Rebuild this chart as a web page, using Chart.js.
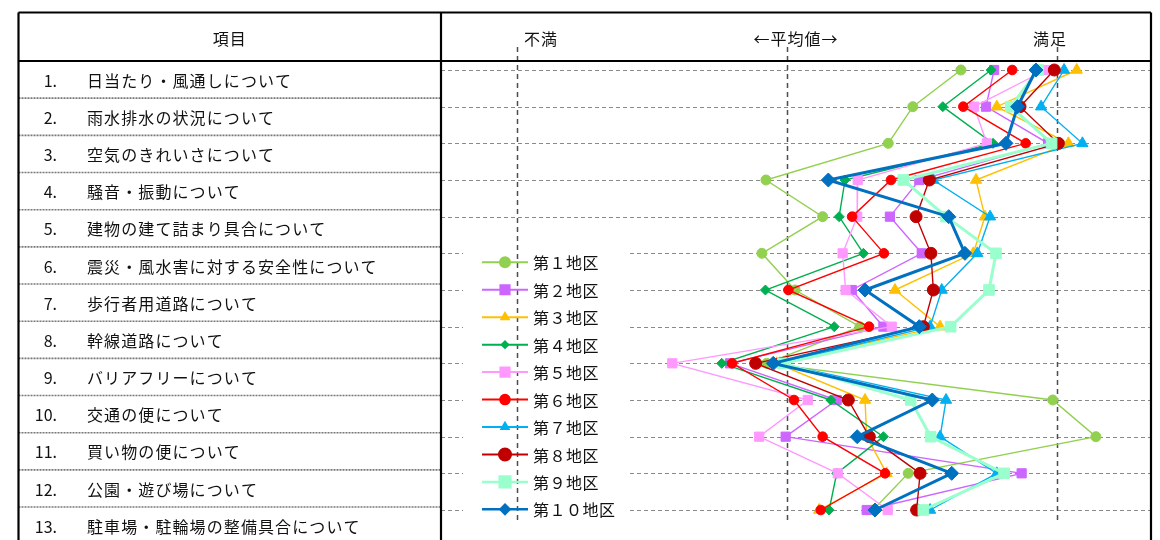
<!DOCTYPE html>
<html lang="ja">
<head>
<meta charset="utf-8">
<script src="https://cdn.jsdelivr.net/npm/chart.js@4.4.1/dist/chart.umd.min.js"></script>
<style>
  html, body { margin: 0; padding: 0; background: #fff; }
  #wrap { width: 1160px; height: 540px; }
</style>
</head>
<body>
<div id="wrap"><canvas id="profileChart"></canvas></div>
<script>
// 項目（表の行）
var items = [
  '日当たり・風通しについて',
  '雨水排水の状況について',
  '空気のきれいさについて',
  '騒音・振動について',
  '建物の建て詰まり具合について',
  '震災・風水害に対する安全性について',
  '歩行者用道路について',
  '幹線道路について',
  'バリアフリーについて',
  '交通の便について',
  '買い物の便について',
  '公園・遊び場について',
  '駐車場・駐輪場の整備具合について'
];
var districts = ['第１地区', '第２地区', '第３地区', '第４地区', '第５地区',
                 '第６地区', '第７地区', '第８地区', '第９地区', '第１０地区'];

// 横軸の目盛り（不満 = -1, 平均値 = 0, 満足 = 1）
var axisTicks = [-1, 0, 1];
var axisLabels = ['不満', '←平均値→', '満足'];

// 地区ごとの評価値（項目1〜13）
var d1  = [0.644, 0.466, 0.375, -0.078, 0.132, -0.093, 0.030, 0.270, -0.075, 0.984, 1.144, 0.449, 0.319];
var d2  = [0.767, 0.737, 0.967, 0.490, 0.381, 0.499, 0.240, 0.357, -0.211, 0.184, -0.005, 0.869, 0.295];
var d3  = [1.073, 0.777, 1.042, 0.700, 0.733, 0.690, 0.400, 0.567, -0.038, 0.289, 0.295, 0.369, 0.119];
var d4  = [0.756, 0.577, 0.763, 0.215, 0.193, 0.283, -0.080, 0.175, -0.242, 0.162, 0.357, 0.184, 0.156];
var d5  = [0.958, 0.693, 0.740, 0.262, 0.260, 0.206, 0.217, 0.388, -0.425, 0.077, -0.103, 0.188, 0.373];
var d6  = [0.834, 0.653, 0.884, 0.385, 0.241, 0.359, 0.005, 0.304, -0.203, 0.026, 0.132, 0.363, 0.125];
var d7  = [1.026, 0.941, 1.094, 0.542, 0.752, 0.705, 0.573, 0.530, -0.026, 0.589, 0.567, 0.777, 0.530];
var d8  = [0.990, 0.863, 1.005, 0.527, 0.478, 0.533, 0.542, 0.505, -0.116, 0.227, 0.305, 0.493, 0.480];
var d9  = [0.930, 0.829, 0.980, 0.431, 0.589, 0.774, 0.748, 0.606, -0.015, 0.458, 0.532, 0.804, 0.505];
var d10 = [0.922, 0.854, 0.811, 0.153, 0.599, 0.659, 0.289, 0.490, -0.051, 0.538, 0.260, 0.610, 0.326];
var values = [d1, d2, d3, d4, d5, d6, d7, d8, d9, d10];

// 見た目
var colors  = ['#92D050', '#CC66FF', '#FFC000', '#00B050', '#FF99FF',
               '#FF0000', '#00B0F0', '#C00000', '#99FFCC', '#0070C0'];
var markers = ['circle', 'rect', 'triangle', 'rectRot', 'rect',
               'circle', 'triangle', 'circle', 'rect', 'rectRot'];
var radii   = [5, 6.5, 6.5, 5, 6.5, 4.8, 6.5, 6, 7.5, 7];
var widths  = [1.4, 1.4, 1.4, 1.4, 1.4, 1.4, 1.4, 1.4, 3, 3];

var FONT = '"Noto Sans CJK JP", "Noto Sans", sans-serif';

var datasets = values.map(function (vals, k) {
  return {
    label: districts[k],
    data: vals.map(function (v, i) { return { x: v, y: i + 1 }; }),
    borderColor: colors[k],
    backgroundColor: colors[k],
    borderWidth: widths[k],
    pointStyle: markers[k],
    pointRadius: radii[k],
    pointBackgroundColor: colors[k],
    pointBorderColor: colors[k],
    pointBorderWidth: 1,
    tension: 0,
    order: 9 - k   // 第10地区が一番上
  };
});

// 背景の点線（行の線・縦の基準線）
var gridPlugin = {
  id: 'grid',
  beforeDatasetsDraw: function (chart) {
    var c = chart.ctx, xs = chart.scales.x, ys = chart.scales.y, a = chart.chartArea;
    c.save();
    c.strokeStyle = '#8a8a8a';
    c.lineWidth = 1.2;
    c.setLineDash([4, 3]);
    items.forEach(function (t, i) {
      var y = Math.round(ys.getPixelForValue(i + 1)) + 0.5;
      c.beginPath(); c.moveTo(a.left, y); c.lineTo(a.right, y); c.stroke();
    });
    // 凡例の下地
    c.fillStyle = '#fff';
    c.fillRect(463, 238, 167, 296);
    c.strokeStyle = '#4d4d4d';
    c.lineWidth = 1.5;
    c.setLineDash([5, 4]);
    axisTicks.forEach(function (v) {
      var x = Math.round(xs.getPixelForValue(v)) + 0.5;
      c.beginPath(); c.moveTo(x, 47); c.lineTo(x, 524); c.stroke();
    });
    c.restore();
  }
};

// 左の表・見出し・凡例
var tablePlugin = {
  id: 'table',
  afterDraw: function (chart) {
    var c = chart.ctx;
    var L = 18.5, R = 1151, T = 12.5, H = 61, D = 441, rowH = 37.17;
    c.save();
    // 行の区切り（灰色の点線）
    c.strokeStyle = '#777';
    c.lineWidth = 1.6;
    c.setLineDash([2, 1]);
    for (var k = 1; k < items.length; k++) {
      var yy = H + rowH * k;
      c.beginPath(); c.moveTo(L, yy); c.lineTo(D, yy); c.stroke();
    }
    c.setLineDash([]);
    c.strokeStyle = '#000';
    c.lineWidth = 2.2;
    c.beginPath();
    c.moveTo(L, T); c.lineTo(R, T);
    c.moveTo(L, H); c.lineTo(R, H);
    c.moveTo(L, T); c.lineTo(L, 540);
    c.moveTo(D, T); c.lineTo(D, 540);
    c.moveTo(R, T); c.lineTo(R, 540);
    c.stroke();

    // 見出し
    c.fillStyle = '#111';
    c.textBaseline = 'middle';
    c.font = '16px ' + FONT;
    c.letterSpacing = '1px';
    c.textAlign = 'center';
    c.fillText('項目', (L + D) / 2, 39);
    var headX = [541, 796, 1050];
    axisLabels.forEach(function (t, i) { c.fillText(t, headX[i], 39); });

    // 項目
    items.forEach(function (t, i) {
      var yc = H + rowH * (i + 0.5) + 1;
      c.letterSpacing = '0px';
      c.textAlign = 'right';
      c.fillText((i + 1) + '.', 57, yc);
      c.letterSpacing = '1.1px';
      c.textAlign = 'left';
      c.fillText(t, 87, yc);
    });

    // 凡例
    c.letterSpacing = '0.5px';
    districts.forEach(function (name, k) {
      var y = 262.3 + k * 27.45;
      c.strokeStyle = colors[k];
      c.fillStyle = colors[k];
      c.lineWidth = k >= 8 ? 2.5 : 2;
      c.beginPath(); c.moveTo(482, y); c.lineTo(528, y); c.stroke();
      var small = (markers[k] === 'triangle' || markers[k] === 'rectRot');
      Chart.helpers.drawPoint(c, {
        pointStyle: markers[k],
        radius: small ? radii[k] * 0.65 : radii[k],
        rotation: 0,
        borderWidth: 1
      }, 505, y);
      c.fillStyle = '#111';
      c.textAlign = 'left';
      c.fillText(name, 533, y + 1);
    });
    c.restore();
  }
};

var ctx = document.getElementById('profileChart').getContext('2d');
var profileChart = new Chart(ctx, {
  type: 'line',
  data: { datasets: datasets },
  options: {
    responsive: true,
    maintainAspectRatio: false,
    animation: false,
    layout: {
      autoPadding: false,
      padding: { left: 441, right: 9, top: 61, bottom: 0 }
    },
    scales: {
      x: { type: 'linear', min: -1.2815, max: 1.3481, display: false },
      y: { type: 'linear', reverse: true, min: 0.7545, max: 13.818, display: false }
    },
    plugins: {
      legend: { display: false },
      tooltip: { enabled: false }
    }
  },
  plugins: [gridPlugin, tablePlugin]
});
</script>
</body>
</html>
